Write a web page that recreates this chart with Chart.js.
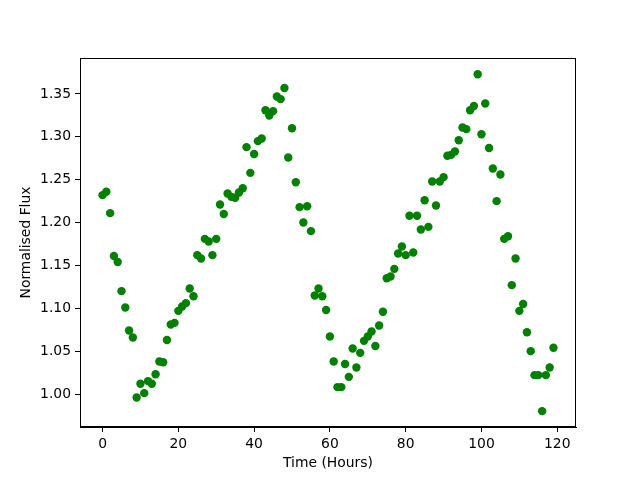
<!DOCTYPE html>
<html>
<head>
<meta charset="utf-8">
<script src="https://cdn.jsdelivr.net/npm/chart.js@4/dist/chart.umd.min.js"></script>
<style>
  html, body { margin:0; padding:0; background:#fff; }
  #wrap { width:640px; height:480px; }
</style>
</head>
<body>
<div id="wrap"><canvas id="chart-flux" width="640" height="480"></canvas></div>
<script>
// ---- data ----
const hours = [
  0,1,2,3,4,5,6,7,8,9,10,11,12,13,14,15,16,17,18,19,
  20,21,22,23,24,25,26,27,28,29,30,31,32,33,34,35,36,37,38,39,
  40,41,42,43,44,45,46,47,48,49,50,51,52,53,54,55,56,57,58,59,
  60,61,62,63,64,65,66,67,68,69,70,71,72,73,74,75,76,77,78,79,
  80,81,82,83,84,85,86,87,88,89,90,91,92,93,94,95,96,97,98,99,
  100,101,102,103,104,105,106,107,108,109,110,111,112,113,114,115,116,117,118,119
];
const flux = [
  1.232,1.236,1.211,1.161,1.154,1.120,1.101,1.074,1.066,0.996,
  1.012,1.001,1.015,1.012,1.023,1.038,1.037,1.063,1.081,1.083,
  1.097,1.102,1.106,1.123,1.114,1.162,1.158,1.181,1.178,1.162,
  1.181,1.221,1.210,1.234,1.230,1.229,1.235,1.240,1.288,1.258,
  1.280,1.295,1.298,1.331,1.325,1.330,1.347,1.344,1.357,1.276,
  1.310,1.247,1.218,1.200,1.219,1.190,1.115,1.123,1.114,1.098,
  1.067,1.038,1.008,1.008,1.035,1.020,1.053,1.031,1.048,1.062,
  1.067,1.073,1.056,1.080,1.096,1.135,1.137,1.146,1.164,1.172,
  1.162,1.208,1.165,1.208,1.192,1.226,1.195,1.248,1.220,1.248,
  1.253,1.278,1.279,1.283,1.296,1.311,1.309,1.331,1.336,1.373,
  1.303,1.339,1.287,1.263,1.225,1.256,1.181,1.184,1.127,1.158,
  1.097,1.105,1.072,1.050,1.022,1.022,0.980,1.022,1.031,1.054
];
const xTicks = [0, 20, 40, 60, 80, 100, 120];
const yTicks = [1.00, 1.05, 1.10, 1.15, 1.20, 1.25, 1.30, 1.35];

const FONT = { family: 'DejaVu Sans', size: 13.9 };

// matplotlib-style box around the axes
const frame = {
  id: 'frame',
  afterDraw(chart){
    const a = chart.chartArea, c = chart.ctx;
    c.save();
    c.strokeStyle = '#000';
    c.lineWidth = 1;
    c.strokeRect(Math.round(a.left) + 0.5, Math.round(a.top) + 0.5,
                 Math.round(a.right - a.left) - 1, Math.round(a.bottom - a.top) - 1);
    c.restore();
  }
};

const axisCommon = {
  grid: { display:true, drawOnChartArea:false, drawTicks:true, tickLength:5, tickColor:'#000', tickWidth:1 },
  border: { display:true, color:'#000', width:1 },
  ticks: { color:'#000', font:FONT, padding:4, autoSkip:false, maxRotation:0 }
};

new Chart(document.getElementById('chart-flux'), {
  type: 'scatter',
  data: {
    datasets: [{
      data: hours.map((h, i) => ({ x: h, y: flux[i] })),
      backgroundColor: '#008000',
      borderWidth: 0,
      pointRadius: 4.2,
      pointHoverRadius: 4.2
    }]
  },
  options: {
    responsive: false,
    animation: false,
    events: [],
    layout: { padding: { left:0, top:58, right:64, bottom:0 } },
    plugins: { legend: { display:false }, tooltip: { enabled:false } },
    scales: {
      x: {
        ...axisCommon,
        type: 'linear',
        min: -5.95, max: 124.95,
        afterBuildTicks: s => { s.ticks = xTicks.map(v => ({ value:v })); },
        afterFit: s => { s.height = 53; },
        ticks: { ...axisCommon.ticks, callback: v => String(v) },
        title: { display:true, text:'Time (Hours)', color:'#000', font:FONT, padding:{ top:0, bottom:8 } }
      },
      y: {
        ...axisCommon,
        type: 'linear',
        min: 0.9615, max: 1.392,
        afterBuildTicks: s => { s.ticks = yTicks.map(v => ({ value:v })); },
        afterFit: s => { s.width = 80; },
        ticks: { ...axisCommon.ticks, callback: v => Number(v).toFixed(2) },
        title: { display:true, text:'Normalised Flux', color:'#000', font:FONT, padding:{ top:18, bottom:0 } }
      }
    }
  },
  plugins: [frame]
});
</script>
</body>
</html>
